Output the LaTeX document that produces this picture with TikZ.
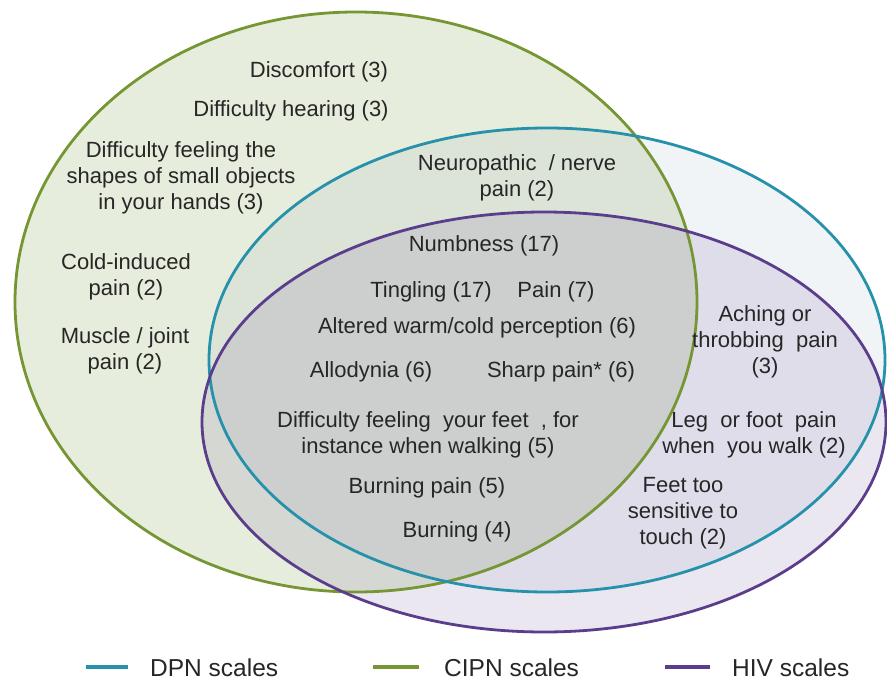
\documentclass[tikz,border=0pt]{standalone}
\usepackage{fontspec}
\setmainfont[Ligatures=NoCommon]{Liberation Sans}
\usetikzlibrary{shapes.geometric}
\definecolor{cgreen}{RGB}{118,150,52}
\definecolor{cblue}{RGB}{38,145,170}
\definecolor{cbluefill}{RGB}{150,175,195}
\definecolor{cpurple}{RGB}{90,62,140}
\definecolor{ctext}{RGB}{38,38,38}
\tikzset{
  lbl/.style={align=center, text=ctext, inner sep=0pt, font=\fontsize{22}{26}\selectfont},
  leg/.style={anchor=west, text=ctext, inner sep=0pt, font=\fontsize{24.5}{28}\selectfont},
  ring/.style={ellipse, inner sep=0pt, line width=2.8pt},
  legline/.style={line width=4pt},
}
\begin{document}
\begin{tikzpicture}[x=1pt, y=-1pt]
\useasboundingbox[fill=white] (0,0) rectangle (887,685);
% fills
\fill[cgreen, fill opacity=0.17] (356,302) ellipse [x radius=341, y radius=290];
\fill[cbluefill, fill opacity=0.13] (547,360) ellipse [x radius=338, y radius=232];
\fill[cpurple, fill opacity=0.12] (544,422) ellipse [x radius=342, y radius=210];
% outlines
\node[ring, draw=cgreen, minimum width=682pt, minimum height=580pt] (cipn) at (356,302) {};
\node[ring, draw=cblue, minimum width=676pt, minimum height=464pt] (dpn) at (547,360) {};
\node[ring, draw=cpurple, minimum width=684pt, minimum height=420pt] (hiv) at (544,422) {};
% labels
\node[lbl] (discomfort) at (319,72) {Discomfort (3)};
\node[lbl] (hearing) at (291,111) {Difficulty hearing (3)};
\node[lbl] (shapes) at (181,178) {Difficulty feeling the\\shapes of small objects\\in your hands (3)};
\node[lbl] (neuro) at (517,178) {Neuropathic \ / nerve\\pain (2)};
\node[lbl] (numb) at (484,246) {Numbness (17)};
\node[lbl] (cold) at (126,277) {Cold-induced\\pain (2)};
\node[lbl] (tingling) at (431,292) {Tingling (17)};
\node[lbl] (pain) at (556,292) {Pain (7)};
\node[lbl] (altered) at (477,328) {Altered warm/cold perception (6)};
\node[lbl] (aching) at (765,342) {Aching or\\throbbing \ pain\\(3)};
\node[lbl] (muscle) at (125,351) {Muscle / joint\\pain (2)};
\node[lbl] (allodynia) at (371,372) {Allodynia (6)};
\node[lbl] (sharp) at (561,372) {Sharp pain* (6)};
\node[lbl] (feet) at (428,435) {Difficulty feeling \ your feet \ , for\\instance when walking (5)};
\node[lbl] (leg) at (754,435) {Leg \ or foot \ pain\\when \ you walk (2)};
\node[lbl] (burnpain) at (427,488) {Burning pain (5)};
\node[lbl] (sensitive) at (683,513) {Feet too\\sensitive to\\touch (2)};
\node[lbl] (burning) at (457,532) {Burning (4)};
% legend
\coordinate (la1) at (86,667); \coordinate (la2) at (128,667);
\coordinate (lb1) at (373,667); \coordinate (lb2) at (419,667);
\coordinate (lc1) at (665,667); \coordinate (lc2) at (710,667);
\draw[legline, cblue] (la1) -- (la2);
\draw[legline, cgreen] (lb1) -- (lb2);
\draw[legline, cpurple] (lc1) -- (lc2);
\node[leg] (legdpn) at (150,668) {DPN scales};
\node[leg] (legcipn) at (444,668) {CIPN scales};
\node[leg] (leghiv) at (732,668) {HIV scales};
\end{tikzpicture}
\end{document}
